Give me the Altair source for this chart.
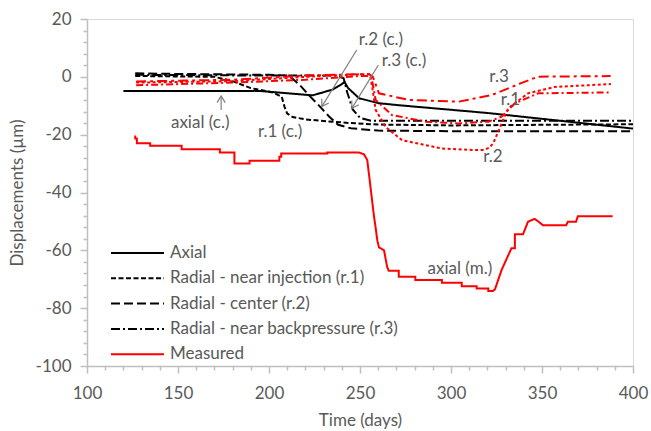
import math
import altair as alt
import pandas as pd

# ---------------- data ----------------
axial_t = [120, 195, 224, 235, 240, 241.5, 243.5, 249.5, 260, 271, 320, 400]
axial_d = [-4.9, -4.9, -6.4, -4.4, -2.5, -1.8, -3.9, -7.4, -9.1, -9.8, -12.5, -17.9]

r1_t = [126.5, 170, 180, 190, 202, 207, 208.5, 210, 213, 220, 230, 245, 260, 300, 400]
r1_d = [0.3, 0, -1.5, -3.9, -5.4, -6.9, -10.3, -12.7, -13.9, -14.7, -15.3, -16.0, -16.5, -16.8, -16.4]

r2_t = [126.5, 150, 200, 211, 217, 222, 228, 233, 238, 245, 260, 300, 400]
r2_d = [1.2, 1.0, 0.7, 0.45, -2.9, -6.4, -10.3, -13.7, -16.6, -17.8, -18.6, -18.8, -18.8]

r3_t = [126.5, 180, 237, 241, 243, 246, 250, 256, 300, 400]
r3_d = [0.7, 0.5, 0.5, -0.5, -5.4, -11.3, -14.2, -15.2, -15.2, -15.2]

meas_t = [126.5, 126.5, 127.4, 127.4, 134.7, 134.7, 152, 152, 173, 173, 181, 181, 189.3, 189.3,
          205.7, 205.7, 206.7, 206.7, 232, 232, 249.5, 252.2, 254, 257.7, 258.6, 259.5, 260.4,
          263.2, 264.9, 265.8, 271.3, 271.3, 280.4, 280.4, 295, 295, 305.9, 305.9, 314.1, 314.1,
          320.5, 320.5, 323, 324.2, 327.8, 333.2, 335.1, 335.1, 339.6, 342.3, 346, 348.7, 350.5,
          363.3, 364.2, 368.7, 369.7, 388.8]
meas_d = [-20.3, -21.3, -21.3, -23.0, -23.0, -23.8, -23.8, -25.0, -25.0, -26.2, -26.2, -30.0, -30.0, -29.0,
          -29.0, -27.6, -27.6, -26.5, -26.5, -26.2, -26.2, -26.8, -28.8, -48.3, -52.2, -56.5, -59.0,
          -60.0, -65.7, -67.1, -67.1, -69.1, -69.1, -70.3, -70.3, -71.2, -71.2, -72.4, -72.4, -73.2,
          -73.2, -74.1, -74.1, -73.4, -66.8, -59.3, -59.3, -54.4, -54.4, -50.1, -49.1, -50.4, -51.3,
          -51.3, -50.1, -50.1, -48.2, -48.2]

# measured radial (red, not in legend)
mr1_t = [127, 180, 220, 250, 255.5, 256.6, 258.6, 267.5, 286.1, 304.1, 320.5, 327.8, 335.1, 347.8, 387.9]
mr1_d = [-2.9, -2.0, -1.0, 0.3, 0.3, -1.1, -8.0, -13.2, -15.5, -16.1, -15.5, -13.8, -9.2, -5.7, -5.4]

mr2_t = [127, 180, 220, 250, 255.5, 256.7, 258.6, 264, 273.1, 295, 313.2, 318, 321, 323.2, 331.4, 342.3, 356.9, 387.9]
mr2_d = [-2.0, -1.5, 0, 0.9, 0.9, -3.5, -11.4, -17.3, -21.9, -24.8, -25.3, -25.3, -24.5, -23.0, -10.9, -5.7, -3.5, -2.5]

mr3_t = [127, 180, 220, 250, 255, 257, 260.4, 276.8, 304.1, 322.3, 338.5, 347.8, 387.7]
mr3_d = [-1.6, -1.0, 0.45, 0.9, 0.9, 0.1, -5.7, -8.0, -8.6, -6.3, -2.2, 0.06, 0.25]

series_names = ["Axial", "Radial - near injection (r.1)", "Radial - center (r.2)",
                "Radial - near backpressure (r.3)", "Measured"]
series_colors = ["#000000", "#000000", "#000000", "#000000", "#ff0000"]
series_dashes = [[1, 0], [5, 2.5], [9, 4], [9, 3, 2, 3], [1, 0]]

ann_text = ["axial (c.)", "r.1 (c.)", "r.2 (c.)", "r.3 (c.)", "r.3", "r.1", "r.2", "axial (m.)"]
ann_t = [162.2, 206.1, 261.5, 274.2, 326.4, 332.7, 323.0, 304.9]
ann_d = [-16.0, -19.0, 12.7, 5.6, 0.0, -8.0, -27.8, -66.5]

arrow_t = [173.7, 248.2, 260.1]
arrow_d = [-11.5, 9.3, 4.1]
arrow_t2 = [173.7, 229.0, 245.5]
arrow_d2 = [-6.6, -10.3, -10.9]

# ---------------- layout ----------------
W, H = 546, 347
X_DOM, Y_DOM = [100, 400], [-100, 20]
FONT = "Lato"
GREY = "#595959"
AXC = "#bfbfbf"


def frame(name, ts, ds):
    return pd.DataFrame({"t": ts, "d": ds, "series": name, "i": list(range(len(ts)))})


main_df = pd.concat([
    frame(series_names[0], axial_t, axial_d),
    frame(series_names[1], r1_t, r1_d),
    frame(series_names[2], r2_t, r2_d),
    frame(series_names[3], r3_t, r3_d),
    frame(series_names[4], meas_t, meas_d),
], ignore_index=True)

xs = alt.Scale(domain=X_DOM, nice=False)
ys = alt.Scale(domain=Y_DOM, nice=False)

x_axis = alt.Axis(
    values=list(range(100, 401, 10)), tickCount=200,
    labelExpr="datum.value % 50 === 0 ? '' + datum.value : ''",
    tickSize={"condition": {"test": "datum.value % 50 === 0", "value": 7}, "value": 4},
    grid=False, domainColor=AXC, tickColor=AXC, domainWidth=1.5, tickWidth=1.5,
    labelColor=GREY, labelFont=FONT, labelFontSize=17, labelPadding=12, labelOverlap=False,
    labelFlush=False,
    title="Time (days)", titleFont=FONT, titleFontSize=17, titleColor=GREY,
    titleFontWeight="normal", titlePadding=11,
)
y_axis = alt.Axis(
    values=list(range(-100, 21, 4)), tickCount=200,
    labelExpr="datum.value % 20 === 0 ? '' + datum.value : ''",
    tickSize={"condition": {"test": "datum.value % 20 === 0", "value": 7}, "value": 4},
    grid=False, domainColor=AXC, tickColor=AXC, domainWidth=1.5, tickWidth=1.5,
    labelColor=GREY, labelFont=FONT, labelFontSize=17, labelPadding=9, labelOverlap=False,
    labelFlush=False,
    title="Displacements (µm)", titleFont=FONT, titleFontSize=17, titleColor=GREY,
    titleFontWeight="normal", titlePadding=9,
)

legend = alt.Legend(
    title=None, orient="none", legendX=23, legendY=227, symbolType="stroke",
    symbolSize=2809, symbolStrokeWidth=2, clipHeight=14, rowPadding=8.3,
    labelFont=FONT, labelFontSize=17, labelColor=GREY, labelOffset=5, padding=0,
    labelLimit=500,
)

lines = alt.Chart(main_df).mark_line(strokeWidth=2, clip=True).encode(
    x=alt.X("t:Q", scale=xs, axis=x_axis),
    y=alt.Y("d:Q", scale=ys, axis=y_axis),
    color=alt.Color("series:N", scale=alt.Scale(domain=series_names, range=series_colors),
                    legend=legend),
    strokeDash=alt.StrokeDash("series:N", scale=alt.Scale(domain=series_names, range=series_dashes),
                              legend=legend),
    order="i:Q",
)


def red_line(ts, ds, dash):
    return alt.Chart(frame("m", ts, ds)).mark_line(
        color="#ff0000", strokeWidth=2, strokeDash=dash, clip=True
    ).encode(x=alt.X("t:Q", scale=xs), y=alt.Y("d:Q", scale=ys), order="i:Q")


red1 = red_line(mr1_t, mr1_d, [7, 3, 2, 3])
red2 = red_line(mr2_t, mr2_d, [3, 2.5])
red3 = red_line(mr3_t, mr3_d, [10, 4, 3, 4])

ann_df = pd.DataFrame({"label": ann_text, "t": ann_t, "d": ann_d})
texts = alt.Chart(ann_df).mark_text(font=FONT, fontSize=17, color=GREY).encode(
    x=alt.X("t:Q", scale=xs), y=alt.Y("d:Q", scale=ys), text="label:N"
)

px_x = W / (X_DOM[1] - X_DOM[0])
px_y = H / (Y_DOM[1] - Y_DOM[0])
angles = [
    (math.degrees(math.atan2((b2 - a) * px_x, (d2 - d) * px_y)) + 360) % 360
    for a, d, b2, d2 in zip(arrow_t, arrow_d, arrow_t2, arrow_d2)
]
arr_df = pd.DataFrame({"t": arrow_t, "d": arrow_d, "t2": arrow_t2, "d2": arrow_d2, "a": angles})
arrows = alt.Chart(arr_df).mark_rule(color="#7f7f7f", strokeWidth=1.2).encode(
    x=alt.X("t:Q", scale=xs), y=alt.Y("d:Q", scale=ys), x2="t2:Q", y2="d2:Q"
)
heads = alt.Chart(arr_df).mark_point(
    shape="M-0.55,0.9L0,0L0.55,0.9", filled=False, color="#7f7f7f", strokeWidth=1.2,
    size=220, opacity=1,
).encode(
    x=alt.X("t2:Q", scale=xs), y=alt.Y("d2:Q", scale=ys), angle=alt.Angle("a:Q", scale=None)
)

chart = alt.layer(lines, red3, red1, red2, arrows, heads, texts).properties(
    width=W, height=H, autosize="none",
    padding={"left": 87, "top": 19, "right": 18, "bottom": 65},
    background="white",
).configure_view(stroke="#d9d9d9", strokeWidth=1)

chart.save("out.html", embed_options={"renderer": "svg", "actions": False})
